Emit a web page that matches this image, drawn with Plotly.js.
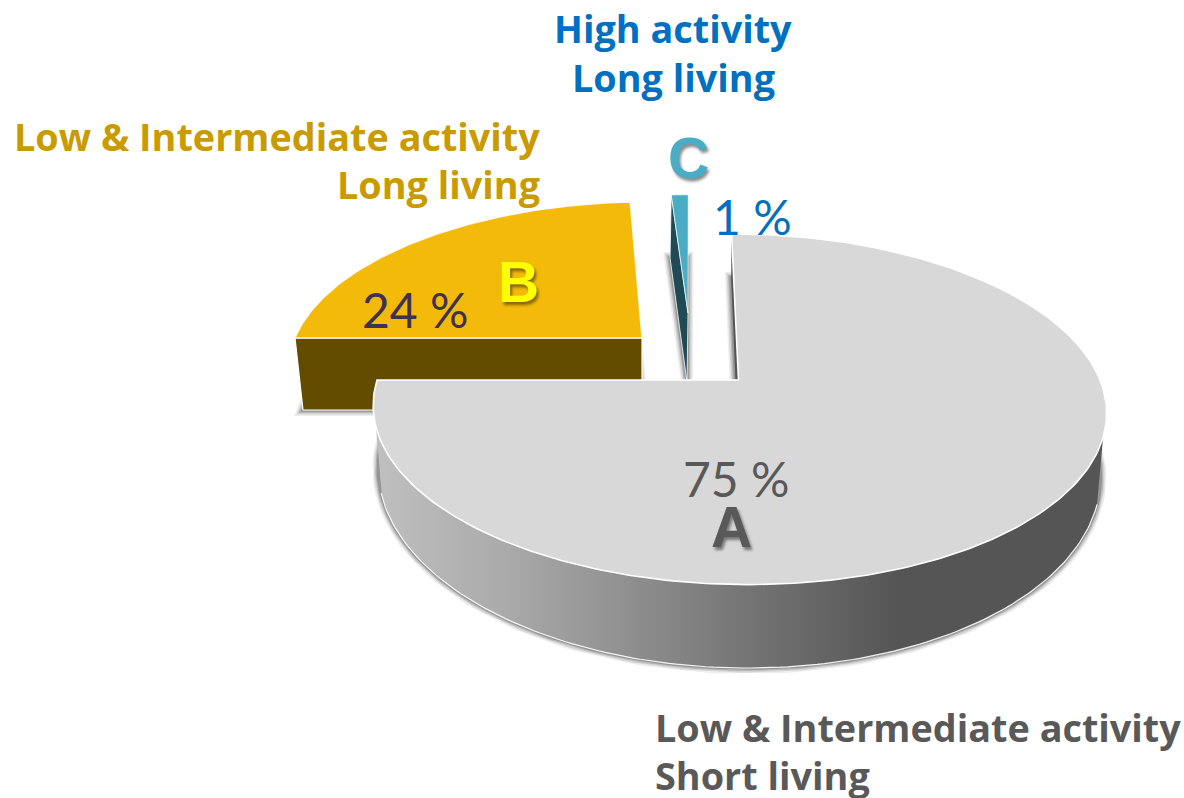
<!DOCTYPE html>
<html>
<head>
<meta charset="utf-8">
<script src="https://cdn.plot.ly/plotly-3.0.1.min.js"></script>
<style>html,body{margin:0;padding:0;background:#fff}#chart{width:1184px;height:798px}</style>
</head>
<body>
<div id="chart"></div>
<script>
// Waste categories and their share of the total
const categories = ["A", "B", "C"];
const shares = [75, 24, 1];
const shareLabels = ["75 %", "24 %", "1 %"];
const descriptionsA = ["Low & Intermediate activity", "Short living"];
const descriptionsB = ["Low & Intermediate activity", "Long living"];
const descriptionsC = ["High activity", "Long living"];

// Perspective plates: every slice has a top and a bottom plane on a shared vanishing column
const vanishX = 690, tilt = 0.1667;
const plates = {
  A: {top: {cx: 738.5, cy: 380, a: 361.5, b: 170.5}, bottom: {cx: 738, cy: 440.5, a: 356, b: 189.6}},
  B: {top: {cx: 642, cy: 338, a: 347, b: 159}, bottom: {cx: 642, cy: 410, a: 339, b: 169}},
  C: {top: {cx: 688, cy: 313, a: 316, b: 138}, bottom: {cx: 687, cy: 382, a: 323, b: 145}}
};
const faceColors = {A: "#D8D8D8", B: "#F4BA0A", C: "#4BACC6"};
const wallColors = {B: "#634B00", C: "#1F4A56"};
const textColors = {A: "#595959", B: "#C99B00", C: "#0070C0"};

// Angles run clockwise from twelve o'clock, in degrees
function project(plane, deg, radius) {
  const t = deg * Math.PI / 180;
  const X = radius * Math.sin(t), Y = radius * Math.cos(t);
  const w = 1 + tilt * Y;
  return [vanishX + (plane.cx - vanishX + plane.a * X) / w, plane.cy - plane.b * Y / w];
}
function arc(plane, from, to) {
  const n = Math.max(2, Math.ceil(Math.abs(to - from)));
  const pts = [];
  for (let i = 0; i <= n; i++) pts.push(project(plane, from + (to - from) * i / n, 1));
  return pts;
}
function sector(plane, from, to) {
  const apex = project(plane, 0, 0);
  return [apex, ...arc(plane, from, to), apex];
}
function poly(pts, opts) {
  return Object.assign({
    type: "scatter", mode: "lines", hoverinfo: "skip", showlegend: false,
    x: pts.map(p => p[0]), y: pts.map(p => p[1])
  }, opts);
}
function softShadow(pts) {
  const strokes = [[12, 0.07], [9, 0.1], [6, 0.14], [3.5, 0.18]];
  return strokes.map(s => poly(pts, {line: {color: "rgba(0,0,0," + s[1] + ")", width: s[0]}}));
}

// Slice spans from the cumulative shares, starting with A at twelve o'clock
const total = shares.reduce((s, v) => s + v, 0);
const spans = {};
let running = 0;
categories.forEach((c, i) => {
  spans[c] = [running / total * 360, (running + shares[i]) / total * 360];
  running += shares[i];
});

const traces = [];
categories.forEach(c => {
  traces.push(...softShadow(sector(plates[c].bottom, spans[c][0], spans[c][1])));
});

// Slice B: straight wall along its left radius, then the face
const bEdge = spans.B[0];
traces.push(poly([
  project(plates.B.top, 0, 0), project(plates.B.top, bEdge, 1),
  project(plates.B.bottom, bEdge, 1), project(plates.B.bottom, 0, 0), project(plates.B.top, 0, 0)
], {fill: "toself", fillcolor: wallColors.B, line: {color: "#ffffff", width: 1.2}}));
traces.push(poly(sector(plates.B.top, spans.B[0], spans.B[1]),
  {fill: "toself", fillcolor: faceColors.B, line: {color: "rgba(255,255,255,0.85)", width: 1.4}}));

// Slice C: sliver wall on its left radius, then the face
const cEdge = spans.C[0];
traces.push(poly([
  project(plates.C.top, 0, 0), project(plates.C.top, cEdge, 1),
  project(plates.C.bottom, cEdge, 1), project(plates.C.bottom, 0, 0), project(plates.C.top, 0, 0)
], {fill: "toself", fillcolor: wallColors.C, line: {color: "#ffffff", width: 0.8}}));
traces.push(poly(sector(plates.C.top, spans.C[0], spans.C[1]),
  {fill: "toself", fillcolor: faceColors.C, line: {color: "rgba(255,255,255,0.9)", width: 0.8}}));

// Slice A: thin wall on the twelve o'clock radius and the curved front wall
traces.push(poly([
  project(plates.A.top, 0, 0), project(plates.A.top, 360, 1),
  project(plates.A.bottom, 360, 1), project(plates.A.bottom, 0, 0), project(plates.A.top, 0, 0)
], {fill: "toself", fillcolor: "#555555", line: {color: "rgba(255,255,255,0)", width: 0}}));

const wallFrom = 108.6, wallTo = 254.6;
const wallTop = arc(plates.A.top, wallFrom, wallTo);
const wallBottom = arc(plates.A.bottom, wallTo, wallFrom);
traces.push(poly([...wallTop, ...wallBottom, wallTop[0]], {
  fill: "toself",
  fillgradient: {
    type: "horizontal", start: 378, stop: 1100,
    colorscale: [[0, "#BFBFBF"], [0.17, "#ABABAB"], [0.35, "#8F8F8F"], [0.52, "#737373"], [0.72, "#555555"], [1, "#555555"]]
  },
  line: {color: "rgba(255,255,255,0)", width: 0}
}));
traces.push(poly(wallBottom, {line: {color: "rgba(255,255,255,0.9)", width: 1.2}}));
traces.push(poly(sector(plates.A.top, spans.A[0], spans.A[1]),
  {fill: "toself", fillcolor: faceColors.A, line: {color: "#ffffff", width: 1.6}}));

// Text
const boldFace = "'Open Sans', 'Noto Sans', sans-serif";
function note(text, x, y, anchor, font) {
  return {text, x, y, xref: "x", yref: "y", xanchor: anchor, yanchor: "middle",
          showarrow: false, font, align: anchor};
}
const heading = color => ({family: boldFace, size: 37.8, color, weight: 700});
const percent = color => ({family: "Lato, 'Open Sans', sans-serif", size: 48, color, weight: 400});
const letter = color => ({family: "'Liberation Sans', Arial, sans-serif", size: 57, color, weight: 700,
                          shadow: "2px 3px 3px rgba(0,0,0,0.45)"});
const annotations = [
  note(descriptionsC[0], 673, 28, "center", heading(textColors.C)),
  note(descriptionsC[1], 673, 77, "center", heading(textColors.C)),
  note(descriptionsB[0], 542, 136, "right", heading(textColors.B)),
  note(descriptionsB[1], 542, 184, "right", heading(textColors.B)),
  note(descriptionsA[0], 652.5, 727, "left", heading(textColors.A)),
  note(descriptionsA[1], 652.5, 775, "left", heading(textColors.A)),
  note(shareLabels[0], 736, 478, "center", percent("#595959")),
  note(shareLabels[1], 415, 309, "center", percent("#403152")),
  note(shareLabels[2], 752, 216, "center", percent("#0070C0")),
  note(categories[0], 731, 527, "center", letter("#595959")),
  note(categories[1], 518, 282, "center", letter("#FFFF00")),
  note(categories[2], 688, 158, "center", letter("#4BACC6"))
];

const hiddenAxis = range => ({range, visible: false, fixedrange: true, showgrid: false, zeroline: false});
Plotly.newPlot("chart", traces, {
  width: 1184, height: 798,
  margin: {l: 0, r: 0, t: 0, b: 0},
  paper_bgcolor: "#ffffff", plot_bgcolor: "#ffffff",
  xaxis: hiddenAxis([0, 1184]),
  yaxis: hiddenAxis([798, 0]),
  showlegend: false,
  annotations
}, {displayModeBar: false, staticPlot: true});
</script>
</body>
</html>
